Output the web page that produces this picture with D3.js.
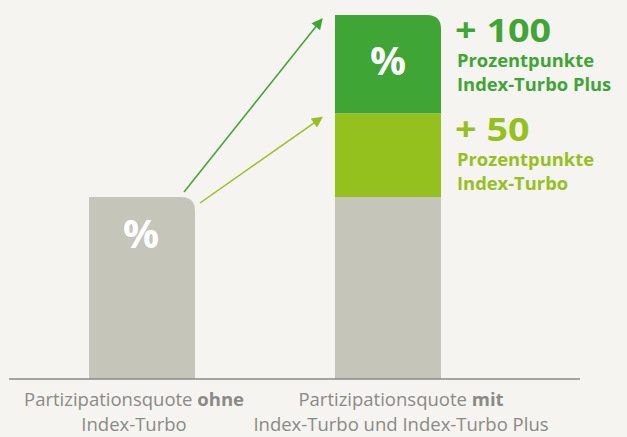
<!DOCTYPE html>
<html>
<head>
<meta charset="utf-8">
<script src="https://cdn.jsdelivr.net/npm/d3@7"></script>
<style>
  html, body { margin: 0; padding: 0; background: #f5f4f0; }
  svg { display: block; font-family: "Open Sans", sans-serif; }
</style>
</head>
<body>
<div id="chart"></div>
<script>
// bars (schematic heights)
var categories = ["ohne", "mit"];
var baseValues = [100, 100];
var turboValue = 46;
var plusValue = 54;
var turboLabel = ["+ 50", "Prozentpunkte", "Index-Turbo"];
var plusLabel = ["+ 100", "Prozentpunkte", "Index-Turbo Plus"];
var catLabels = [
  [["Partizipationsquote ", "ohne"], ["Index-Turbo"]],
  [["Partizipationsquote ", "mit"], ["Index-Turbo und Index-Turbo Plus"]]
];

var width = 627, height = 437;
var grey = "#c5c5b9", light = "#95c11f", dark = "#3fa535";

var svg = d3.select("#chart").append("svg")
    .attr("width", width).attr("height", height);

// scaling
var xScale = d3.scaleBand()
    .domain(categories)
    .range([89, 441])
    .paddingInner(0.569)
    .paddingOuter(0);

var yScale = d3.scaleLinear()
    .domain([0, 200])
    .range([379, 15]);

// arrow heads
var defs = svg.append("defs");
[["arrDark", dark], ["arrLight", light]].forEach(function(a) {
  defs.append("marker")
      .attr("id", a[0])
      .attr("viewBox", "0 0 10 10")
      .attr("refX", 9).attr("refY", 5)
      .attr("markerWidth", 14).attr("markerHeight", 11)
      .attr("markerUnits", "userSpaceOnUse")
      .attr("orient", "auto")
    .append("path")
      .attr("d", "M0,0 L10,5 L0,10 Z")
      .attr("fill", a[1]);
});

// path for a bar with rounded top right corner
function barPath(x0, x1, y0, y1, r) {
  return "M" + x0 + "," + y1 + "L" + x0 + "," + y0 + "L" + (x1 - r) + "," + y0 +
    "Q" + x1 + "," + y0 + " " + x1 + "," + (y0 + r) + "L" + x1 + "," + y1 + "Z";
}

var bw = xScale.bandwidth();
var x1 = xScale("ohne"), x2 = xScale("mit");

// bar without turbo
svg.append("path")
    .attr("d", barPath(x1, x1 + bw, yScale(baseValues[0]), yScale(0), 14))
    .attr("fill", grey);

// stacked bar with turbo
svg.append("rect")
    .attr("x", x2).attr("width", bw)
    .attr("y", yScale(baseValues[1])).attr("height", yScale(0) - yScale(baseValues[1]))
    .attr("fill", grey);
svg.append("rect")
    .attr("x", x2).attr("width", bw)
    .attr("y", yScale(baseValues[1] + turboValue))
    .attr("height", yScale(baseValues[1]) - yScale(baseValues[1] + turboValue))
    .attr("fill", light);
svg.append("path")
    .attr("d", barPath(x2, x2 + bw, yScale(baseValues[1] + turboValue + plusValue),
                       yScale(baseValues[1] + turboValue), 14))
    .attr("fill", dark);

// baseline
svg.append("line")
    .attr("x1", 9).attr("x2", 580)
    .attr("y1", yScale(0)).attr("y2", yScale(0))
    .attr("stroke", "#8a8a84").attr("stroke-width", 1.5);

// % signs
svg.append("text")
    .attr("x", x1 + bw / 2 - 1).attr("y", yScale(baseValues[0]) + 51)
    .attr("text-anchor", "middle")
    .attr("fill", "#fff").attr("font-size", 40).attr("font-weight", 700)
    .text("%");
svg.append("text")
    .attr("x", x2 + bw / 2).attr("y", yScale(baseValues[1] + turboValue + plusValue) + 60)
    .attr("text-anchor", "middle")
    .attr("fill", "#fff").attr("font-size", 40).attr("font-weight", 700)
    .text("%");

// arrows
svg.append("line")
    .attr("x1", x1 + bw - 11).attr("y1", yScale(baseValues[0]) - 5)
    .attr("x2", x2 - 13).attr("y2", yScale(baseValues[1] + turboValue + plusValue) + 4)
    .attr("stroke", dark).attr("stroke-width", 1.5)
    .attr("marker-end", "url(#arrDark)");
svg.append("line")
    .attr("x1", x1 + bw + 5).attr("y1", yScale(baseValues[0]) + 6)
    .attr("x2", x2 - 13).attr("y2", yScale(baseValues[1] + turboValue) + 4)
    .attr("stroke", light).attr("stroke-width", 1.5)
    .attr("marker-end", "url(#arrLight)");

// side labels (narrow font look: squeeze glyphs horizontally)
function sideLabel(lines, color, y0) {
  var g = svg.append("g").attr("fill", color).attr("font-weight", 700);
  g.append("text")
      .attr("transform", "translate(455," + y0 + ") scale(1.18,1)")
      .attr("font-size", 32).text(lines[0]);
  g.append("text")
      .attr("transform", "translate(457," + (y0 + 25) + ") scale(1.08,1)")
      .attr("font-size", 17).text(lines[1]);
  g.append("text")
      .attr("transform", "translate(457," + (y0 + 49) + ") scale(1.08,1)")
      .attr("font-size", 17).text(lines[2]);
}
sideLabel(plusLabel, dark, 42);
sideLabel(turboLabel, light, 141);

// category labels
var labelX = [x1 + bw / 2 - 8, x2 + bw / 2 + 13];
catLabels.forEach(function(lab, i) {
  var t = svg.append("text")
      .attr("x", labelX[i]).attr("y", 406)
      .attr("text-anchor", "middle")
      .attr("fill", "#8a8a86").attr("font-size", 18.5);
  t.append("tspan").text(lab[0][0]);
  t.append("tspan").attr("font-weight", 700).text(lab[0][1]);
  svg.append("text")
      .attr("x", labelX[i]).attr("y", 431)
      .attr("text-anchor", "middle")
      .attr("fill", "#8a8a86").attr("font-size", 18.5)
      .text(lab[1][0]);
});
</script>
</body>
</html>
